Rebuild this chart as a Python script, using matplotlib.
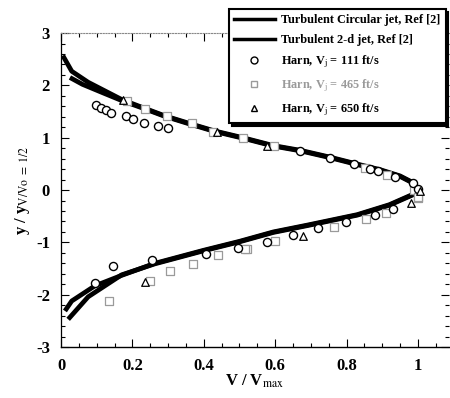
import matplotlib
matplotlib.use("Agg")
import matplotlib.pyplot as plt
from matplotlib.ticker import MultipleLocator
from matplotlib.lines import Line2D

# --- data -------------------------------------------------------------
circ_x = [0.005, 0.03, 0.076, 0.17, 0.235, 0.29, 0.366, 0.43, 0.51, 0.595, 0.67,
          0.753, 0.828, 0.894, 0.95, 0.99, 1.0, 0.99, 0.92, 0.83, 0.69, 0.595,
          0.50, 0.40, 0.263, 0.17, 0.076, 0.02]
circ_y = [2.57, 2.27, 2.06, 1.73, 1.56, 1.42, 1.26, 1.13, 1.00, 0.85, 0.76,
          0.63, 0.50, 0.39, 0.27, 0.13, 0.0, -0.08, -0.29, -0.48, -0.68, -0.81,
          -0.99, -1.16, -1.41, -1.62, -2.04, -2.47]

twod_x = [0.025, 0.06, 0.12, 0.17, 0.235, 0.29, 0.366, 0.43, 0.51, 0.595, 0.67,
          0.753, 0.828, 0.894, 0.95, 0.99, 1.0, 0.99, 0.92, 0.83, 0.69, 0.595,
          0.50, 0.40, 0.263, 0.17, 0.095, 0.03, 0.011]
twod_y = [2.15, 2.02, 1.85, 1.71, 1.55, 1.41, 1.25, 1.12, 0.99, 0.84, 0.75,
          0.62, 0.49, 0.38, 0.26, 0.12, 0.0, -0.07, -0.28, -0.47, -0.67, -0.80,
          -0.98, -1.15, -1.40, -1.63, -1.83, -2.12, -2.31]

c111_x = [0.097, 0.111, 0.125, 0.139, 0.182, 0.201, 0.232, 0.271, 0.299,
          0.669, 0.753, 0.821, 0.866, 0.889, 0.937, 0.987, 1.001,
          0.929, 0.881, 0.799, 0.721, 0.649, 0.576, 0.495, 0.406, 0.256, 0.147, 0.095]
c111_y = [1.625, 1.57, 1.53, 1.47, 1.41, 1.36, 1.29, 1.23, 1.18,
          0.74, 0.62, 0.50, 0.41, 0.37, 0.25, 0.13, 0.02,
          -0.36, -0.48, -0.62, -0.73, -0.86, -0.99, -1.10, -1.22, -1.34, -1.46, -1.77]

s465_x = [0.184, 0.235, 0.296, 0.366, 0.427, 0.511, 0.597, 0.852, 0.914, 0.99, 1.0,
          1.0, 0.912, 0.854, 0.766, 0.60, 0.52, 0.515, 0.439, 0.37, 0.305, 0.249, 0.134]
s465_y = [1.71, 1.55, 1.41, 1.29, 1.10, 0.99, 0.84, 0.42, 0.29, 0.0, -0.16,
          -0.14, -0.43, -0.56, -0.70, -0.98, -1.12, -1.13, -1.24, -1.41, -1.54, -1.73, -2.12]

t650_x = [0.175, 0.437, 0.576, 1.006, 0.982, 0.679, 0.235]
t650_y = [1.72, 1.11, 0.85, -0.01, -0.24, -0.87, -1.75]

x_ticks = [0, 0.2, 0.4, 0.6, 0.8, 1]
x_tick_labels = ["0", "0.2", "0.4", "0.6", "0.8", "1"]
y_ticks = [-3, -2, -1, 0, 1, 2, 3]
y_tick_labels = ["-3", "-2", "-1", "0", "1", "2", "3"]

legend_labels = ["Turbulent Circular jet, Ref [2]",
                 "Turbulent 2-d jet, Ref [2]",
                 "Harn, V$_{\\mathrm{j}}$ = 111 ft/s",
                 "Harn, V$_{\\mathrm{j}}$ = 465 ft/s",
                 "Harn, V$_{\\mathrm{j}}$ = 650 ft/s"]

# --- figure -----------------------------------------------------------
plt.rcParams['font.family'] = ['Liberation Serif', 'DejaVu Serif']
plt.rcParams['mathtext.fontset'] = 'stix'

fig = plt.figure(figsize=(4.5, 3.98), dpi=100)
ax = fig.add_axes([0.1356, 0.128, 0.862, 0.789])

ax.plot(circ_x, circ_y, color='black', lw=3.4, solid_capstyle='butt', zorder=2)
ax.plot(twod_x, twod_y, color='black', lw=3.4, solid_capstyle='butt', zorder=2)

ax.scatter(c111_x, c111_y, s=34, facecolors='white', edgecolors='black', linewidths=1.0, zorder=4)
ax.scatter(s465_x, s465_y, s=30, marker='s', facecolors='white', edgecolors='#9a9a9a', linewidths=0.9, zorder=3)
ax.scatter(t650_x, t650_y, s=30, marker='^', facecolors='white', edgecolors='black', linewidths=0.9, zorder=5)

ax.set_xlim(0, 1.087)
ax.set_ylim(-3, 3)
ax.set_xticks(x_ticks)
ax.set_xticklabels(x_tick_labels)
ax.set_yticks(y_ticks)
ax.set_yticklabels(y_tick_labels)
ax.xaxis.set_minor_locator(MultipleLocator(0.05))
ax.yaxis.set_minor_locator(MultipleLocator(0.2))
ax.tick_params(which='both', direction='in', top=True, right=True, width=0.8)
ax.tick_params(which='major', length=6, labelsize=12, pad=8)
ax.tick_params(which='minor', length=3)
for lab in ax.get_xticklabels() + ax.get_yticklabels():
    lab.set_fontweight('bold')

ax.spines['right'].set_visible(False)
ax.spines['top'].set_color('#888888')
ax.spines['top'].set_linestyle((0, (1, 1.5)))
ax.spines['left'].set_linewidth(0.9)
ax.spines['bottom'].set_linewidth(1.0)

ax.set_xlabel("V / V$_{\\mathrm{max}}$", fontsize=12, fontweight='bold', labelpad=-1)
ax.set_ylabel("y / y$_{\\mathrm{V/Vo\\ =\\ 1/2}}$", fontsize=12, fontweight='bold', labelpad=3)

handles = [Line2D([], [], color='black', lw=2.5),
           Line2D([], [], color='black', lw=2.5),
           Line2D([], [], ls='none', marker='o', mfc='white', mec='black', ms=5),
           Line2D([], [], ls='none', marker='s', mfc='white', mec='#9a9a9a', ms=4.5),
           Line2D([], [], ls='none', marker='^', mfc='white', mec='black', ms=5)]
leg = fig.legend(handles, legend_labels, loc='upper right',
                 bbox_to_anchor=(0.99, 0.978), frameon=True, fancybox=False,
                 shadow={'color': 'black', 'alpha': 1.0},
                 prop={'family': 'Liberation Serif', 'weight': 'bold', 'size': 8.8},
                 handlelength=3.3, handletextpad=0.5, labelspacing=0.62,
                 borderpad=0.45, borderaxespad=0)
leg.get_frame().set_edgecolor('black')
leg.get_frame().set_linewidth(1.5)
leg.get_texts()[3].set_color('#9a9a9a')
leg.set_zorder(10)

fig.savefig("out.png", dpi=100)
